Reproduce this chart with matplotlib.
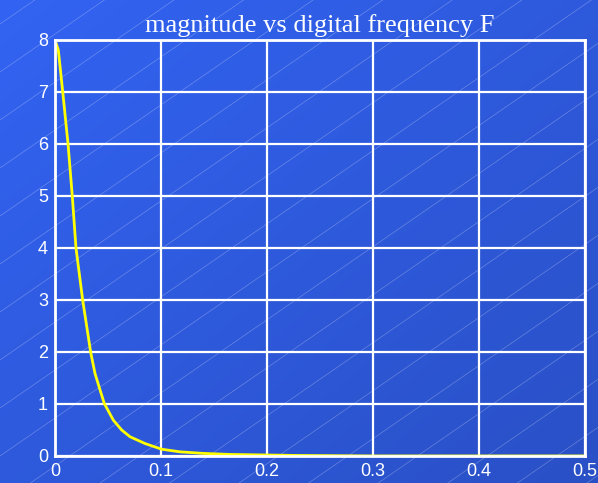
import numpy as np
import matplotlib.pyplot as plt

# magnitude
F = [0.0, 0.0031, 0.0073, 0.0123, 0.0163, 0.0198, 0.0261, 0.0337, 0.0377, 0.0425,
     0.0465, 0.055, 0.0629, 0.0708, 0.0849, 0.1007, 0.118, 0.14, 0.165,
     0.23, 0.3, 0.4, 0.5]
mag = [8.0, 7.81, 7.0, 6.0, 5.0, 4.0, 3.0, 1.99, 1.59, 1.27,
       1.01, 0.69, 0.50, 0.37, 0.24, 0.13, 0.08, 0.05, 0.03,
       0.01, 0.0, 0.0, 0.0]

xticks = [0, 0.1, 0.2, 0.3, 0.4, 0.5]
xticklabels = ['0', '0.1', '0.2', '0.3', '0.4', '0.5']
yticks = [0, 1, 2, 3, 4, 5, 6, 7, 8]

fig = plt.figure(figsize=(5.98, 4.83), dpi=100)

# slide-like background: gradient plus faint diagonal lines
bg = fig.add_axes([0, 0, 1, 1])
yy, xx = np.mgrid[0:1:200j, 0:1:200j]
t = (xx + yy) / 2
c1 = np.array([0x32, 0x63, 0xf2]) / 255
c2 = np.array([0x2a, 0x50, 0xc6]) / 255
img = c1[None, None, :] * (1 - t[..., None]) + c2[None, None, :] * t[..., None]
bg.imshow(img, extent=[0, 598, 483, 0], aspect='auto')
for y0 in np.arange(-600, 1100, 48):
    xs = np.array([0, 598])
    bg.plot(xs, y0 - 0.69 * xs, color='white', alpha=0.28, lw=0.5)
bg.set_xlim(0, 598)
bg.set_ylim(483, 0)
bg.axis('off')

ax = fig.add_axes([55 / 598, 27 / 483, 530 / 598, 416 / 483])
ax.patch.set_alpha(0)
ax.plot(F, mag, color='#ffff00', lw=2)
ax.set_xlim(0, 0.5)
ax.set_ylim(0, 8)
ax.set_xticks(xticks)
ax.set_xticklabels(xticklabels)
ax.set_yticks(yticks)
ax.grid(True, color='white', lw=1.6)
ax.set_axisbelow(True)
for s in ax.spines.values():
    s.set_color('white')
    s.set_linewidth(2)
ax.tick_params(length=0, colors='white', labelsize=13, pad=5)
for lab in ax.get_xticklabels() + ax.get_yticklabels():
    lab.set_family('Liberation Sans')
ax.set_title('magnitude vs digital frequency F', color='white',
             family='Liberation Serif', fontsize=19, pad=6)

fig.savefig('out.png', dpi=100)
